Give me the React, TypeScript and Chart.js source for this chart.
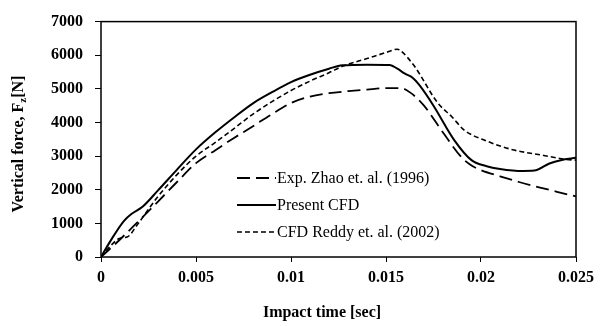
import React, { useEffect, useRef } from "react";
import { Chart, registerables } from "chart.js";

Chart.register(...registerables);

const xTickLabels = ["0", "0.005", "0.01", "0.015", "0.02", "0.025"];
const yTickLabels = ["0", "1000", "2000", "3000", "4000", "5000", "6000", "7000"];

const seriesNames = ["Exp. Zhao et. al. (1996)", "Present CFD", "CFD Reddy et. al. (2002)"];

const expTime = [0, 0.001, 0.002, 0.003, 0.004, 0.005, 0.006, 0.007, 0.008, 0.009, 0.01, 0.011, 0.012, 0.013, 0.014, 0.015, 0.0158, 0.0163, 0.017, 0.018, 0.019, 0.0195, 0.02, 0.021, 0.022, 0.023, 0.024, 0.025];
const expForce = [0, 520, 1080, 1650, 2230, 2790, 3170, 3540, 3890, 4250, 4580, 4770, 4870, 4930, 4980, 5020, 5020, 4880, 4500, 3700, 2950, 2720, 2580, 2400, 2230, 2080, 1940, 1800];

const cfdTime = [0, 0.0005, 0.0012, 0.0016, 0.0022, 0.003, 0.004, 0.005, 0.006, 0.007, 0.008, 0.009, 0.01, 0.011, 0.012, 0.0127, 0.014, 0.0152, 0.0156, 0.016, 0.0164, 0.0168, 0.0175, 0.0186, 0.0195, 0.0203, 0.021, 0.0222, 0.0228, 0.0236, 0.0242, 0.025];
const cfdForce = [0, 480, 1070, 1280, 1500, 1980, 2600, 3200, 3700, 4150, 4570, 4900, 5200, 5420, 5600, 5700, 5720, 5710, 5600, 5450, 5330, 5080, 4500, 3470, 2880, 2700, 2620, 2560, 2570, 2780, 2880, 2950];

const reddyTime = [0, 0.0005, 0.001, 0.0014, 0.0019, 0.0025, 0.003, 0.004, 0.005, 0.006, 0.007, 0.008, 0.009, 0.01, 0.011, 0.012, 0.0127, 0.014, 0.015, 0.0156, 0.0158, 0.0165, 0.0177, 0.0185, 0.0191, 0.0203, 0.0216, 0.0233, 0.0245, 0.025];
const reddyForce = [0, 330, 560, 600, 950, 1420, 1800, 2450, 3000, 3400, 3820, 4250, 4620, 4950, 5230, 5480, 5670, 5900, 6080, 6180, 6120, 5670, 4600, 4150, 3780, 3450, 3200, 3020, 2900, 2880];

const FONT = "'Liberation Serif', 'Times New Roman', serif";

const toPts = (xs: number[], ys: number[]) => xs.map((x, i) => ({ x, y: ys[i] }));

const decorPlugin = {
  id: "decor",
  afterDatasetsDraw(chart: any) {
    const ctx = chart.ctx as CanvasRenderingContext2D;
    const a = chart.chartArea;
    ctx.save();
    ctx.strokeStyle = "#000";
    ctx.lineWidth = 1.5;
    ctx.setLineDash([]);
    ctx.strokeRect(a.left, a.top, a.right - a.left, a.bottom - a.top);

    const ds = chart.data.datasets;
    const rows = [178, 205, 232];
    ctx.font = `16px ${FONT}`;
    ctx.textBaseline = "middle";
    ctx.fillStyle = "#000";
    ds.forEach((d: any, i: number) => {
      const y = rows[i];
      ctx.beginPath();
      ctx.setLineDash(d.borderDash || []);
      ctx.lineWidth = d.borderWidth;
      ctx.strokeStyle = "#000";
      ctx.moveTo(237, y);
      ctx.lineTo(276, y);
      ctx.stroke();
      ctx.setLineDash([]);
      ctx.fillText(d.label, 277, y + 1);
    });

    ctx.font = `bold 16px ${FONT}`;
    ctx.textAlign = "center";
    ctx.textBaseline = "middle";
    ctx.fillText("Impact time [sec]", 322, 313);

    const main1 = "Vertical force, F";
    const sub = "z";
    const main2 = "[N]";
    ctx.font = `bold 16px ${FONT}`;
    const w1 = ctx.measureText(main1).width;
    const w3 = ctx.measureText(main2).width;
    ctx.font = `bold 11px ${FONT}`;
    const w2 = ctx.measureText(sub).width;
    const total = w1 + w2 + w3;
    ctx.translate(19, 144);
    ctx.rotate(-Math.PI / 2);
    ctx.textAlign = "left";
    ctx.textBaseline = "middle";
    let u = -total / 2;
    ctx.font = `bold 16px ${FONT}`;
    ctx.fillText(main1, u, 0);
    u += w1;
    ctx.font = `bold 11px ${FONT}`;
    ctx.fillText(sub, u, 4);
    u += w2;
    ctx.font = `bold 16px ${FONT}`;
    ctx.fillText(main2, u, 0);
    ctx.restore();
  },
};

export default function App() {
  const ref = useRef<HTMLCanvasElement | null>(null);
  useEffect(() => {
    if (!ref.current) return;
    const common = { borderColor: "#000", pointRadius: 0, fill: false, cubicInterpolationMode: "monotone" };
    const chart = new Chart(ref.current, {
      type: "line",
      data: {
        datasets: [
          { ...common, label: seriesNames[0], data: toPts(expTime, expForce), borderWidth: 1.8, borderDash: [13, 6] },
          { ...common, label: seriesNames[1], data: toPts(cfdTime, cfdForce), borderWidth: 2 },
          { ...common, label: seriesNames[2], data: toPts(reddyTime, reddyForce), borderWidth: 1.6, borderDash: [5, 3] },
        ],
      },
      options: {
        animation: false,
        responsive: false,
        layout: { padding: { top: 14, right: 21, left: 0, bottom: 0 } },
        plugins: { legend: { display: false }, tooltip: { enabled: false } },
        scales: {
          x: {
            type: "linear",
            min: 0,
            max: 0.025,
            afterFit: (s: any) => {
              s.height = 69;
            },
            afterBuildTicks: (s: any) => {
              s.ticks = xTickLabels.map((t) => ({ value: parseFloat(t) }));
            },
            ticks: {
              color: "#000",
              font: { family: FONT, size: 16, weight: "bold" },
              padding: 6,
              maxRotation: 0,
              callback: (_v: any, i: number) => xTickLabels[i],
            },
            grid: { drawOnChartArea: false, tickLength: 5, color: "#000", lineWidth: 1 },
            border: { display: false },
          },
          y: {
            type: "linear",
            min: 0,
            max: 7000,
            afterFit: (s: any) => {
              s.width = 101;
            },
            afterBuildTicks: (s: any) => {
              s.ticks = yTickLabels.map((t) => ({ value: parseFloat(t) }));
            },
            ticks: {
              color: "#000",
              font: { family: FONT, size: 16, weight: "bold" },
              padding: 12,
              callback: (_v: any, i: number) => yTickLabels[i],
            },
            grid: { drawOnChartArea: false, tickLength: 6, color: "#000", lineWidth: 1 },
            border: { display: false },
          },
        },
      },
      plugins: [decorPlugin],
    } as any);
    return () => chart.destroy();
  }, []);
  return (
    <div style={{ position: "absolute", left: 0, top: 0, width: 600, height: 326, background: "#fff" }}>
      <canvas ref={ref} width={600} height={326} />
    </div>
  );
}
